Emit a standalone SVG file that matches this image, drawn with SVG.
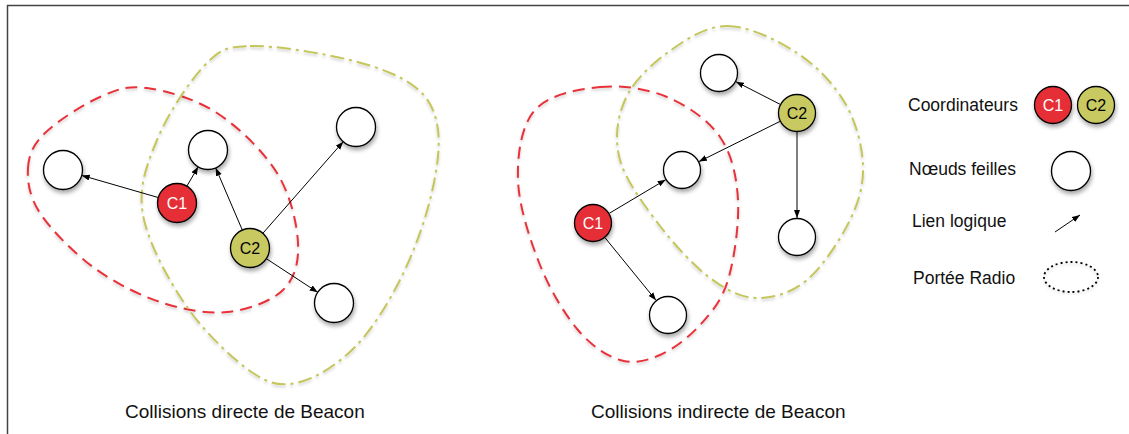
<svg xmlns="http://www.w3.org/2000/svg" width="1129" height="434" viewBox="0 0 1129 434">
<defs>
<filter id="sh" x="-30%" y="-30%" width="160%" height="170%">
<feDropShadow dx="1" dy="3" stdDeviation="2" flood-color="#000" flood-opacity="0.35"/>
</filter>
<filter id="csh" x="-10%" y="-10%" width="120%" height="120%">
<feDropShadow dx="0" dy="2" stdDeviation="1.5" flood-color="#000" flood-opacity="0.2"/>
</filter>
<marker id="arr" markerUnits="userSpaceOnUse" markerWidth="9" markerHeight="7" refX="8" refY="3" orient="auto">
<path d="M0,0 L8,3 L0,6 Z" fill="#000"/>
</marker>
</defs>
<style>
.red{fill:none;stroke:#e8323a;stroke-width:2;stroke-dasharray:12 7;filter:url(#csh)}
.yel{fill:none;stroke:#c4c65c;stroke-width:2;stroke-dasharray:14 5 3 5;filter:url(#csh)}
.leaf{fill:#fff;stroke:#000;stroke-width:1.3;filter:url(#sh)}
.c1{fill:#e52d35;stroke:#000;stroke-width:1.3;filter:url(#sh)}
.c2{fill:#c9c962;stroke:#000;stroke-width:1.3;filter:url(#sh)}
.lbl{font-family:"Liberation Sans",Arial,sans-serif;font-size:16px;text-anchor:middle}
.txt{font-family:"Liberation Sans",Arial,sans-serif;fill:#111}
.cn line{stroke:#000;stroke-width:1;marker-end:url(#arr)}
</style>
<rect width="1129" height="434" fill="#fff"/>
<path d="M7.5,434 V5.5 H1129" fill="none" stroke="#444" stroke-width="1.5"/>

<g id="ranges">
<path class="red" d="M28,168 C28.8,154.7 33,144.8 45,133 C57,121.2 83,104.5 100,97 C117,89.5 127.5,85.3 147,88 C166.5,90.7 195.3,98.8 217,113 C238.7,127.2 263.5,151.3 277,173 C290.5,194.7 297,223.5 298,243 C299,262.5 294.8,278.5 283,290 C271.2,301.5 247.5,310 227,312 C206.5,314 182.3,309.5 160,302 C137.7,294.5 113,281.8 93,267 C73,252.2 50.8,229.5 40,213 C29.2,196.5 27.2,181.3 28,168 Z"/>
<path class="yel" d="M250,46 C274.2,45.2 322.5,53.2 350,60 C377.5,66.8 400.3,75.3 415,87 C429.7,98.7 435.5,111.2 438,130 C440.5,148.8 436.3,175 430,200 C423.7,225 412.5,255.5 400,280 C387.5,304.5 371.7,330 355,347 C338.3,364 317,377.7 300,382 C283,386.3 271.8,385.5 253,373 C234.2,360.5 205.3,333.3 187,307 C168.7,280.7 148,242.8 143,215 C138,187.2 146.7,165 157,140 C167.3,115 189.5,80.7 205,65 C220.5,49.3 225.8,46.8 250,46 Z"/>
<path class="red" d="M600,87 C622,84.8 647,88.7 667,97 C687,105.3 708.2,119.8 720,137 C731.8,154.2 736.7,176.2 738,200 C739.3,223.8 734.3,259.2 728,280 C721.7,300.8 711.3,312.5 700,325 C688.7,337.5 673.3,349.2 660,355 C646.7,360.8 633.7,364.2 620,360 C606.3,355.8 591.3,345.8 578,330 C564.7,314.2 550,290 540,265 C530,240 518.8,205.8 518,180 C517.2,154.2 521.3,125.5 535,110 C548.7,94.5 578,89.2 600,87 Z"/>
<path class="yel" d="M727,26 C748.7,26 777.3,40.2 797,53 C816.7,65.8 834,84.3 845,103 C856,121.7 862.2,145.5 863,165 C863.8,184.5 859.3,200.8 850,220 C840.7,239.2 822.5,267 807,280 C791.5,293 773.2,298.3 757,298 C740.8,297.7 726.2,290 710,278 C694.2,266 675,245.7 660,226 C645,206.3 625.8,181 620,160 C614.2,139 617.2,117.8 625,100 C632.8,82.2 650,65.3 667,53 C684,40.7 705.3,26 727,26 Z"/>
</g>

<g id="connectors" class="cn">
<line x1="158.8" y1="197.7" x2="81.7" y2="175.4"/>
<line x1="186.6" y1="186.6" x2="198.2" y2="166.8"/>
<line x1="242.5" y1="230.5" x2="215.7" y2="167.9"/>
<line x1="262.5" y1="233.7" x2="343.2" y2="141.7"/>
<line x1="265.9" y1="258.4" x2="317.7" y2="292.3"/>
<line x1="780.1" y1="104.3" x2="735.9" y2="81.7"/>
<line x1="780" y1="121.4" x2="699" y2="161.6"/>
<line x1="797" y1="132" x2="797" y2="218"/>
<line x1="609.3" y1="213.3" x2="665.7" y2="179.7"/>
<line x1="605" y1="237.7" x2="656" y2="300.3"/>
<line x1="1055" y1="232" x2="1080" y2="215"/>
</g>

<g id="a-leaf1"><circle class="leaf" cx="63" cy="170" r="19.5"/></g>
<g id="a-leaf2"><circle class="leaf" cx="208" cy="150" r="19.5"/></g>
<g id="a-leaf3"><circle class="leaf" cx="356" cy="127" r="19.5"/></g>
<g id="a-leaf4"><circle class="leaf" cx="334" cy="303" r="19.5"/></g>
<g id="a-c1"><circle class="c1" cx="177" cy="203" r="19.5"/><text class="lbl" x="177" y="209" fill="#fff">C1</text></g>
<g id="a-c2"><circle class="c2" cx="250" cy="248" r="19.5"/><text class="lbl" x="250" y="254" fill="#000">C2</text></g>

<g id="b-leaf1"><circle class="leaf" cx="719" cy="73" r="18.5"/></g>
<g id="b-leaf2"><circle class="leaf" cx="682" cy="170" r="18.5"/></g>
<g id="b-leaf3"><circle class="leaf" cx="797" cy="237" r="18.5"/></g>
<g id="b-leaf4"><circle class="leaf" cx="668" cy="315" r="18.5"/></g>
<g id="b-c1"><circle class="c1" cx="593" cy="223" r="18.5"/><text class="lbl" x="593" y="229" fill="#fff">C1</text></g>
<g id="b-c2"><circle class="c2" cx="797" cy="113" r="18.5"/><text class="lbl" x="797" y="119" fill="#000">C2</text></g>

<g id="legend">
<text class="txt" x="908" y="110.5" font-size="17.5">Coordinateurs</text>
<circle class="c1" cx="1053" cy="105" r="18.5"/><text class="lbl" x="1053" y="111" fill="#fff">C1</text>
<circle class="c2" cx="1096" cy="105" r="18.5"/><text class="lbl" x="1096" y="111" fill="#000">C2</text>
<text class="txt" x="909" y="175" font-size="17.5">Nœuds feilles</text>
<circle class="leaf" cx="1071" cy="171" r="19.5"/>
<text class="txt" x="912" y="227" font-size="17.5">Lien logique</text>
<text class="txt" x="913" y="284" font-size="17.5">Portée Radio</text>
<ellipse cx="1071" cy="277" rx="27" ry="15" fill="none" stroke="#000" stroke-width="1.8" stroke-dasharray="2 3" filter="url(#csh)"/>
</g>

<g id="titles">
<text class="txt" x="125" y="418" font-size="19">Collisions directe de Beacon</text>
<text class="txt" x="591" y="418" font-size="19">Collisions indirecte de Beacon</text>
</g>
</svg>
